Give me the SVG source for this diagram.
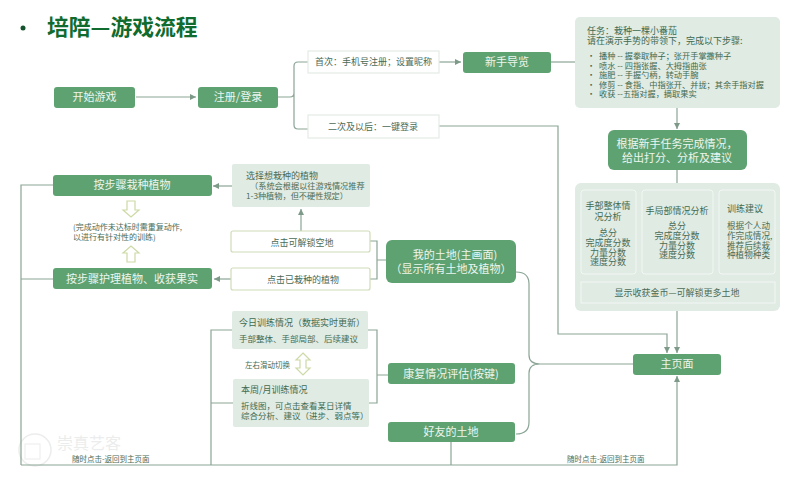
<svg xmlns="http://www.w3.org/2000/svg" width="800" height="485" viewBox="0 0 800 485">
<style>
text{font-family:"Noto Sans CJK SC","Liberation Sans",sans-serif;fill:#4a6b57;font-size:9px}
.c{text-anchor:middle}
.g{fill:#5fa272}
.l{fill:#e0ebe4}
.w{fill:#fff;stroke:#e4ebe6;stroke-width:1.2}
.o{fill:#fff;stroke:#cfdcb8;stroke-width:1.2}
text.t{fill:#edf6ee;font-size:11px}
text.d{fill:#3f6a50}
.s{font-size:8.200px}
.line{fill:none;stroke:#8aa596;stroke-width:1.2}
.h{fill:#fff;stroke:#cdd9a6;stroke-width:1.2}
</style>
<defs>
<marker id="a" markerWidth="8" markerHeight="7" refX="6" refY="3" orient="auto" markerUnits="userSpaceOnUse"><path d="M0 0L6 3L0 6Z" fill="#7d9a89"/></marker>
</defs>
<rect width="800" height="485" fill="#fff"/>
<g id="watermark" opacity=".16">
<circle cx="35" cy="450" r="16" fill="none" stroke="#8a8f8c" stroke-width="1.5"/>
<rect x="25" y="444" width="15" height="15" fill="none" stroke="#8a8f8c"/>
<text x="57" y="449" style="font-size:16px;fill:#8a8f8c">崇真艺客</text>
</g>
<g id="connectors" class="line">
<path d="M136 97H196" marker-end="url(#a)"/>
<path d="M278 97H290Q294 97 294 93V66Q294 62 298 62H308M294 93V125Q294 129 298 129H308"/>
<path d="M439 62H461" marker-end="url(#a)"/>
<path d="M551 62H575"/>
<path d="M677 108V129" marker-end="url(#a)"/>
<path d="M677 170V183"/>
<path d="M677 311V353" marker-end="url(#a)"/>
<path d="M439 126H558V334H667V353" marker-end="url(#a)"/>
<path d="M21 465H677V376" marker-end="url(#a)"/>
<path d="M53 185H21V465M53 279H21"/>
<path d="M232 186H213" marker-end="url(#a)"/>
<path d="M231 279H214" marker-end="url(#a)"/>
<path d="M301 231V209" marker-end="url(#a)"/>
<path d="M370 241H377V279H370M377 260H386"/>
<path d="M232 330H211V465M233 403H211"/>
<path d="M368 330H377V403H369M377 375H388"/>
<path d="M451 442V465"/>
<path d="M516 272Q529 272 529 284V355Q529 364 540 364H633M540 364Q529 364 529 373V422Q529 434 516 434"/>
</g>
<g id="title">
<circle cx="23" cy="28" r="2.500" fill="#14532d"/>
<text x="47" y="35" style="font-size:21.800px;font-weight:700;fill:#0f6b2e">培陪—游戏流程</text>
</g>
<g id="start"><rect class="g" x="54" y="87" width="81" height="21" rx="3"/><text class="c t" x="94.500" y="101">开始游戏</text></g>
<g id="login"><rect class="g" x="198" y="87" width="80" height="21" rx="3"/><text class="c t" x="238" y="101">注册/登录</text></g>
<g id="first"><rect class="w" x="308" y="51" width="131" height="22"/><text class="c" x="373.500" y="65">首次：手机号注册；设置昵称</text></g>
<g id="second"><rect class="w" x="308" y="115" width="131" height="23"/><text class="c" x="373" y="130">二次及以后：一键登录</text></g>
<g id="guide"><rect class="g" x="463" y="52" width="88" height="21" rx="3"/><text class="c t" x="507" y="66">新手导览</text></g>
<g id="task">
<rect class="l" x="575" y="17" width="205" height="91" rx="5"/>
<text class="d"><tspan x="587" y="34">任务：栽种一棵小番茄</tspan><tspan x="587" y="44">请在演示手势的带领下，完成以下步骤:</tspan></text>
<text class="d s"><tspan x="587" y="59">•</tspan><tspan x="599" y="59">播种 -- 握拳取种子；张开手掌撒种子</tspan><tspan x="587" y="68.500">•</tspan><tspan x="599" y="68.500">喷水 -- 四指张握、大拇指曲张</tspan><tspan x="587" y="78">•</tspan><tspan x="599" y="78">施肥 -- 手握勺柄，转动手腕</tspan><tspan x="587" y="87.500">•</tspan><tspan x="599" y="87.500">修剪 -- 食指、中指张开、并拢；其余手指对握</tspan><tspan x="587" y="97">•</tspan><tspan x="599" y="97">收获 --五指对握，摘取果实</tspan></text>
</g>
<g id="score"><rect class="g" x="608" y="130" width="139" height="40" rx="6"/><text class="c t"><tspan x="677" y="148">根据新手任务完成情况，</tspan><tspan x="677" y="162">给出打分、分析及建议</tspan></text></g>
<g id="analysis">
<rect class="l" x="575" y="183" width="205" height="128" rx="6"/>
<g id="overall"><rect class="l" x="581" y="190" width="55" height="84" rx="3" stroke="#f3f7f4"/>
<text class="c d"><tspan x="608" y="209">手部整体情</tspan><tspan x="608" y="220">况分析</tspan></text>
<text class="c"><tspan x="608" y="236">总分</tspan><tspan x="608" y="246">完成度分数</tspan><tspan x="608" y="255.500">力量分数</tspan><tspan x="608" y="265">速度分数</tspan></text></g>
<g id="local"><rect class="l" x="642" y="190" width="71" height="84" rx="3" stroke="#f3f7f4"/>
<text class="c d" x="677" y="214">手局部情况分析</text>
<text class="c"><tspan x="677" y="229">总分</tspan><tspan x="677" y="239">完成度分数</tspan><tspan x="677" y="248.500">力量分数</tspan><tspan x="677" y="258">速度分数</tspan></text></g>
<g id="advice"><rect class="l" x="719" y="190" width="56" height="84" rx="3" stroke="#f3f7f4"/>
<text x="727" y="212" class="d">训练建议</text>
<text style="font-size:8.600px"><tspan x="727" y="229">根据个人动</tspan><tspan x="727" y="239">作完成情况,</tspan><tspan x="727" y="248.500">推荐后续栽</tspan><tspan x="727" y="258">种植物种类</tspan></text></g>
<g id="coins"><rect class="l" x="581" y="282" width="194" height="21" stroke="#f3f7f4"/><text class="c" x="677" y="296">显示收获金币—可解锁更多土地</text></g>
</g>
<g id="home"><rect class="g" x="633" y="354" width="88" height="21" rx="3"/><text class="c t" x="677" y="368">主页面</text></g>
<g id="plant"><rect class="g" x="53" y="175" width="159" height="21" rx="3"/><text class="c t" x="132" y="189">按步骤栽种植物</text></g>
<g id="care"><rect class="g" x="53" y="268" width="159" height="21" rx="3"/><text class="c t" x="132" y="283">按步骤护理植物、收获果实</text></g>
<g id="repeat">
<path class="h" d="M127 201H135V210H139L131 217L123 210H127Z"/>
<text style="font-size:8px"><tspan x="73" y="230">(完成动作未达标时需重复动作,</tspan><tspan x="73" y="240">以进行有针对性的训练)</tspan></text>
<path class="h" d="M127 262H135V253H139L131 246L123 253H127Z"/>
</g>
<g id="choose"><rect class="l" x="232" y="164" width="138" height="43" rx="2"/>
<text class="s"><tspan x="246" y="179" style="font-size:9px">选择想栽种的植物</tspan><tspan x="250" y="189">（系统会根据以往游戏情况推荐</tspan><tspan x="246" y="199">1-3种植物，但不硬性规定）</tspan></text></g>
<g id="unlock"><rect class="o" x="231" y="231" width="139" height="21" rx="2"/><text class="c" x="302" y="246">点击可解锁空地</text></g>
<g id="planted"><rect class="o" x="231" y="268" width="139" height="22" rx="2"/><text class="c" x="303" y="283">点击已栽种的植物</text></g>
<g id="myland"><rect class="g" x="386" y="240" width="130" height="43" rx="6"/><text class="c t"><tspan x="455" y="259">我的土地(主画面)</tspan><tspan x="451" y="273">（显示所有土地及植物）</tspan></text></g>
<g id="today"><rect class="l" x="232" y="311" width="136" height="38" rx="2"/>
<text class="d"><tspan x="239" y="326">今日训练情况（数据实时更新）</tspan><tspan x="239" y="342" style="font-size:8.500px">手部整体、手部局部、后续建议</tspan></text></g>
<g id="swap">
<path class="h" d="M303 353L310 360H306V368H310L303 375L296 368H300V360H296Z"/>
<text x="245" y="368" style="font-size:7.500px">左右滑动切换</text></g>
<g id="period"><rect class="l" x="233" y="379" width="136" height="48" rx="2"/>
<text class="d"><tspan x="241" y="393">本周/月训练情况</tspan><tspan x="241" y="409" style="font-size:8.500px">折线图，可点击查看某日详情</tspan><tspan x="241" y="419" style="font-size:8.500px">综合分析、建议（进步、弱点等）</tspan></text></g>
<g id="rehab"><rect class="g" x="388" y="363" width="127" height="21" rx="3"/><text class="c t" x="451" y="378">康复情况评估(按键)</text></g>
<g id="friend"><rect class="g" x="388" y="422" width="127" height="20" rx="3"/><text class="c t" x="451" y="436">好友的土地</text></g>
<g id="labels">
<text x="72" y="462" style="font-size:7.500px">随时点击-返回到主页面</text>
<text x="567" y="462" style="font-size:7.500px">随时点击-返回到主页面</text>
</g>
</svg>
